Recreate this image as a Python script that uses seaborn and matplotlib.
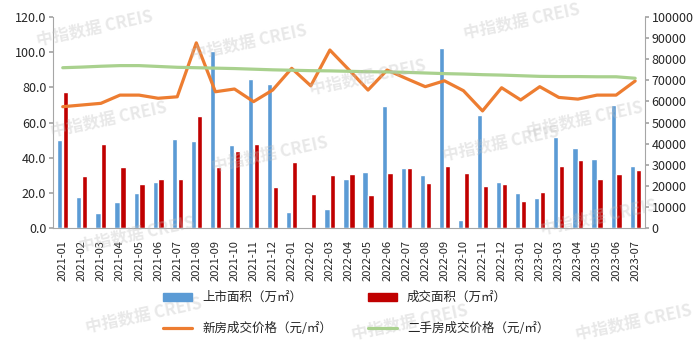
import numpy as np
import pandas as pd
import matplotlib
matplotlib.use("Agg")
import matplotlib.pyplot as plt
import seaborn as sns
from matplotlib.patches import Patch
from matplotlib.lines import Line2D

months = ["2021-01", "2021-02", "2021-03", "2021-04", "2021-05", "2021-06", "2021-07", "2021-08",
          "2021-09", "2021-10", "2021-11", "2021-12", "2022-01", "2022-02", "2022-03", "2022-04",
          "2022-05", "2022-06", "2022-07", "2022-08", "2022-09", "2022-10", "2022-11", "2022-12",
          "2023-01", "2023-02", "2023-03", "2023-04", "2023-05", "2023-06", "2023-07"]
listed_area = [50.0, 17.5, 8.5, 15.0, 20.0, 26.0, 50.5, 49.5, 101.0, 47.0, 84.5, 82.0,
               9.0, 0.0, 10.5, 28.0, 32.0, 69.5, 34.0, 30.0, 102.5, 4.5, 64.5, 26.0,
               20.0, 17.0, 51.5, 45.5, 39.0, 70.0, 35.5]
deal_area = [77.5, 29.5, 47.5, 34.5, 25.0, 28.0, 28.0, 63.5, 34.5, 43.5, 47.5, 23.5,
             37.5, 19.5, 30.0, 30.5, 18.5, 31.5, 34.0, 25.5, 35.0, 31.0, 24.0, 25.0,
             15.5, 20.5, 35.5, 38.5, 28.0, 30.5, 33.0]
new_price = [57500, 58300, 59100, 63000, 63000, 61500, 62200, 87800, 64600, 65900, 59900, 65400,
             75700, 67400, 84400, 75000, 65400, 74900, 70900, 67000, 69800, 65100, 55500, 66500,
             60700, 67000, 61900, 61100, 63000, 63000, 69700]
second_price = [76000, 76300, 76700, 77000, 77000, 76600, 76200, 76000, 75800, 75600, 75300, 75000,
                74800, 74600, 74500, 74300, 74100, 74000, 73800, 73500, 73200, 73000, 72700, 72500,
                72200, 71900, 71800, 71800, 71700, 71700, 71000]
labels = ["上市面积（万㎡）", "成交面积（万㎡）", "新房成交价格（元/㎡）", "二手房成交价格（元/㎡）"]

sns.set_theme(style="white")
plt.rcParams['font.family'] = ['Noto Sans CJK SC', 'DejaVu Sans']

c_blue, c_red, c_orange, c_green = "#5B9BD5", "#C00000", "#ED7D31", "#A9D18E"
txt = "#262626"

df_bar = pd.DataFrame({
    "month": months * 2,
    "value": listed_area + deal_area,
    "series": [labels[0]] * len(months) + [labels[1]] * len(months),
})
df_line = pd.DataFrame({
    "idx": list(range(len(months))) * 2,
    "value": new_price + second_price,
    "series": [labels[2]] * len(months) + [labels[3]] * len(months),
})

fig = plt.figure(figsize=(7, 3.5), dpi=100)
ax = fig.add_axes([0.076, 0.349, 0.845, 0.602])

sns.barplot(data=df_bar, x="month", y="value", hue="series", order=months,
            palette=[c_blue, c_red], width=0.62, gap=0.12, ax=ax, legend=False,
            saturation=1)
ax.set_xlim(-0.5, len(months) - 0.5)
ax.set_ylim(0, 120)
ax.set_yticks(np.arange(0, 121, 20))
ax.set_yticklabels([f"{v:.1f}" for v in np.arange(0, 121, 20)], fontsize=9, color=txt)
ax.set_xticks(range(len(months)))
ax.set_xticklabels(months, rotation=90, fontsize=8, color=txt)
ax.set_xlabel("")
ax.set_ylabel("")

ax2 = ax.twinx()
sns.lineplot(data=df_line, x="idx", y="value", hue="series",
             palette=[c_orange, c_green], linewidth=2.3, ax=ax2, legend=False)
ax2.set_ylim(0, 100000)
ax2.set_yticks(np.arange(0, 100001, 10000))
ax2.set_yticklabels([str(v) for v in range(0, 100001, 10000)], fontsize=9, color=txt)
ax2.set_xlim(-0.5, len(months) - 0.5)
ax2.set_ylabel("")
ax2.set_xlabel("")

for a in (ax, ax2):
    a.spines["top"].set_visible(False)
    for s in ["left", "right", "bottom"]:
        a.spines[s].set_color("#A6A6A6")
        a.spines[s].set_linewidth(0.8)
ax.spines["right"].set_visible(False)
ax2.spines["left"].set_visible(False)
ax2.spines["bottom"].set_visible(False)
ax.tick_params(axis="y", which="both", left=True, length=3, color="#A6A6A6", pad=2)
ax.tick_params(axis="x", bottom=False, pad=3)
ax2.tick_params(axis="y", right=True, length=3, color="#A6A6A6", pad=2)

handles = [Patch(color=c_blue), Line2D([0], [0], color=c_orange, lw=2.3),
           Patch(color=c_red), Line2D([0], [0], color=c_green, lw=2.3)]
hl = [labels[0], labels[2], labels[1], labels[3]]
fig.legend(handles, hl, ncol=2, loc="upper center", bbox_to_anchor=(0.509, 0.2),
           frameon=False, fontsize=9, handlelength=2.3, handleheight=0.6,
           columnspacing=2.9, labelspacing=1.4, labelcolor=txt)

wm = [(0.05, 0.92), (0.27, 0.88), (0.66, 0.94), (0.44, 0.78), (0.07, 0.66),
      (0.30, 0.56), (0.11, 0.33), (0.77, 0.38), (0.63, 0.59), (0.75, 0.66),
      (0.12, 0.10), (0.50, 0.08), (0.82, 0.08)]
for (x, y) in wm:
    fig.text(x, y, "中指数据 CREIS", fontsize=12, color="#BFBFBF", alpha=0.35,
             rotation=12, ha="left", va="center", fontweight="bold", zorder=0)

fig.savefig("out.png", dpi=100)
